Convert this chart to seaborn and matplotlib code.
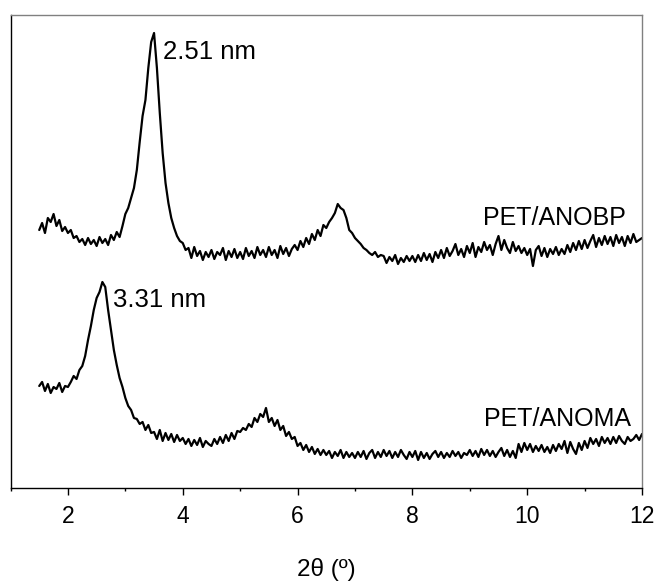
import numpy as np
import pandas as pd
import seaborn as sns
import matplotlib.pyplot as plt
from matplotlib.ticker import MultipleLocator

# 2theta grid of the scans (degrees), 0.05 step
two_theta = np.round(np.arange(1.5, 12.001, 0.05), 2)

# intensities (arb. units, offset already applied)
pet_anobp = [
    258, 265, 255, 270, 266, 274, 262, 268, 257, 261,
    255, 258, 250, 252, 246, 249, 243, 250, 244, 248,
    242, 251, 245, 249, 243, 253, 248, 256, 251, 262,
    274, 280, 290, 300, 318, 346, 372, 388, 420, 446,
    455, 420, 375, 335, 305, 285, 270, 260, 252, 247,
    245, 238, 240, 230, 241, 232, 237, 228, 236, 231,
    238, 229, 236, 233, 240, 228, 237, 231, 239, 230,
    236, 229, 240, 232, 237, 230, 241, 233, 238, 231,
    241, 233, 238, 230, 242, 234, 240, 232, 239, 243,
    238, 247, 241, 250, 244, 254, 248, 258, 252, 263,
    260, 266, 270, 275, 284, 280, 278, 270, 258, 255,
    250, 247, 244, 240, 238, 235, 233, 236, 231, 233,
    232, 225, 231, 227, 233, 224, 230, 226, 232, 227,
    232, 226, 233, 227, 235, 228, 234, 226, 236, 230,
    238, 230, 240, 232, 237, 244, 233, 239, 231, 242,
    235, 245, 231, 241, 236, 246, 238, 243, 233, 244,
    252, 238, 248, 240, 235, 246, 237, 242, 235, 240,
    233, 239, 222, 238, 242, 232, 240, 231, 239, 234,
    241, 233, 239, 234, 243, 236, 245, 238, 247, 239,
    248, 240, 247, 253, 241, 250, 243, 252, 244, 251,
    242, 253, 245, 251, 242, 252, 245, 254, 246, 248,
    250,
]

pet_anoma = [
    102, 106, 97, 104, 95, 101, 99, 105, 96, 102,
    101, 106, 112, 109, 118, 122, 132, 148, 162, 178,
    190, 196, 206, 201, 178, 158, 138, 123, 110, 101,
    90, 82, 78, 70, 69, 64, 66, 58, 63, 55,
    56, 49, 58, 47, 55, 48, 54, 46, 53, 47,
    50, 44, 49, 42, 48, 43, 50, 41, 47, 44,
    42, 49, 44, 51, 45, 53, 47, 55, 49, 57,
    56, 60, 58, 64, 61, 70, 66, 74, 71, 80,
    66, 70, 62, 68, 58, 62, 52, 56, 49, 51,
    42, 45, 38, 43, 36, 41, 34, 39, 33, 38,
    33, 37, 30, 36, 32, 38, 30, 36, 31, 35,
    30, 36, 31, 37, 29, 35, 38, 30, 36, 31,
    38, 32, 37, 30, 36, 31, 38, 33, 29, 36,
    31, 37, 28, 36, 30, 35, 29, 34, 37, 31,
    36, 30, 35, 31, 37, 32, 36, 30, 35, 33,
    38, 32, 37, 31, 39, 33, 38, 32, 37, 31,
    36, 40, 32, 38, 31, 37, 30, 44, 36, 45,
    38, 44, 36, 42, 37, 43, 36, 41, 35, 43,
    37, 44, 39, 47, 35, 46, 39, 34, 45, 38,
    47, 40, 50, 44, 49, 42, 51, 45, 50, 44,
    51, 45, 52, 47, 44, 51, 47, 49, 53, 48,
    54,
]

samples = ["PET/ANOBP", "PET/ANOMA"]

df = pd.DataFrame({
    "two_theta": np.concatenate([two_theta, two_theta]),
    "intensity": pet_anobp + pet_anoma,
    "sample": [samples[0]] * len(two_theta) + [samples[1]] * len(two_theta),
})

sns.set_style("ticks")
plt.rcParams["font.family"] = ["Liberation Sans", "DejaVu Sans"]
plt.rcParams["text.color"] = "black"
plt.rcParams["xtick.color"] = "black"
plt.rcParams["axes.labelcolor"] = "black"

fig = plt.figure(figsize=(6.58, 5.87), dpi=100)
ax = fig.add_axes([0.016, 0.1687, 0.9597, 0.8057])

sns.lineplot(data=df, x="two_theta", y="intensity", hue="sample",
             palette=["black", "black"], linewidth=1.6, legend=False,
             estimator=None, sort=False, ax=ax)

ax.set_xlim(1, 12)
ax.set_ylim(0, 473)
ax.xaxis.set_major_locator(MultipleLocator(2))
ax.xaxis.set_minor_locator(MultipleLocator(1))
ax.set_yticks([])
ax.tick_params(axis="x", which="major", direction="out", length=5, width=1,
               labelsize=16.5, pad=7, color="black", labelcolor="black")
ax.tick_params(axis="x", which="minor", direction="out", length=2.5, width=1,
               color="black")

for side in ["left", "bottom"]:
    ax.spines[side].set_color("black")
    ax.spines[side].set_linewidth(1)
for side in ["top", "right"]:
    ax.spines[side].set_color("#808080")
    ax.spines[side].set_linewidth(1)

ax.set_xlabel("2θ (º)", fontsize=17.5, labelpad=22, color="black")
ax.set_ylabel("")

ax.text(3.65, 436, "2.51 nm", fontsize=18.5, va="center", ha="left")
ax.text(2.79, 188, "3.31 nm", fontsize=18.5, va="center", ha="left")
ax.text(11.72, 270, "PET/ANOBP", fontsize=18, va="center", ha="right")
ax.text(11.81, 69, "PET/ANOMA", fontsize=18, va="center", ha="right")

plt.savefig("out.png", dpi=100)
